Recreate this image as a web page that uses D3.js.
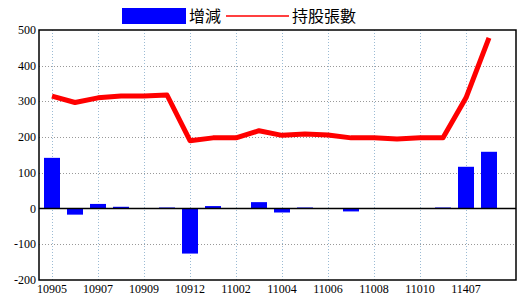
<!DOCTYPE html>
<html>
<head>
<meta charset="utf-8">
<script src="https://cdn.jsdelivr.net/npm/d3@7"></script>
<style>
  body { margin: 0; background: #fff; }
  text { font-family: "Liberation Serif", serif; }
</style>
</head>
<body>
<div id="chart"></div>
<script>
// 月份 (民國年月)
var months = ["10905","10906","10907","10908","10909","10910","10912","11001","11002","11003",
              "11004","11005","11006","11007","11008","11009","11010","11011","11407","11408"];
// 增減
var change = [142,-17,13,5,0,3,-126,7,0,18,-11,3,0,-8,0,0,0,3,117,159];
// 持股張數
var holding = [315,297,310,315,315,318,190,198,198,218,205,209,206,198,198,195,198,198,310,478];
var yTicks = [-200,-100,0,100,200,300,400,500];

var W = 520, H = 300;
var pLeft = 39, pRight = 516, pTop = 30, pBottom = 280;

var svg = d3.select("#chart").append("svg")
    .attr("width", W).attr("height", H);

var x = d3.scaleBand()
    .domain(months)
    .range([40.5, 500.5]);

var y = d3.scaleLinear()
    .domain([-200, 500])
    .range([pBottom, pTop]);

var labelMonths = months.filter((d, i) => i % 2 == 0);

// 水平格線
svg.append("g")
    .selectAll("line")
    .data(yTicks.filter(d => d != 0 && d != 500 && d != -200))
    .enter().append("line")
    .attr("x1", pLeft).attr("x2", pRight)
    .attr("y1", d => Math.round(y(d)) + 0.5).attr("y2", d => Math.round(y(d)) + 0.5)
    .attr("stroke", "#999")
    .attr("stroke-dasharray", "1,2");

// 垂直格線 (每兩個月)
svg.append("g")
    .selectAll("line")
    .data(labelMonths)
    .enter().append("line")
    .attr("x1", d => Math.round(x(d) + x.bandwidth() / 2) + 0.5)
    .attr("x2", d => Math.round(x(d) + x.bandwidth() / 2) + 0.5)
    .attr("y1", pTop).attr("y2", pBottom)
    .attr("stroke", "#9bbbd4")
    .attr("stroke-dasharray", "1,2");

// 長條
svg.append("g")
    .selectAll("rect")
    .data(change)
    .enter().append("rect")
    .attr("x", (d, i) => x(months[i]) + 3.5)
    .attr("width", 16)
    .attr("y", d => y(Math.max(0, d)))
    .attr("height", d => Math.abs(y(d) - y(0)))
    .attr("fill", "#0000ff");

// 零線
svg.append("line")
    .attr("x1", pLeft).attr("x2", pRight)
    .attr("y1", y(0)).attr("y2", y(0))
    .attr("stroke", "#000").attr("stroke-width", 1.5);

// 折線
var line = d3.line()
    .x((d, i) => x(months[i]) + x.bandwidth() / 2)
    .y(d => y(d));
svg.append("path")
    .datum(holding)
    .attr("d", line)
    .attr("fill", "none")
    .attr("stroke", "#ff0000")
    .attr("stroke-width", 5)
    .attr("stroke-linejoin", "round");

// 外框
svg.append("rect")
    .attr("x", pLeft).attr("y", pTop)
    .attr("width", pRight - pLeft).attr("height", pBottom - pTop)
    .attr("fill", "none")
    .attr("stroke", "#000").attr("stroke-width", 1.5);

// Y 軸標籤
svg.append("g")
    .selectAll("text")
    .data(yTicks)
    .enter().append("text")
    .attr("x", 36)
    .attr("y", d => y(d) + 4)
    .attr("text-anchor", "end")
    .attr("font-size", 12)
    .text(d => d);

// X 軸標籤
svg.append("g")
    .selectAll("text")
    .data(labelMonths)
    .enter().append("text")
    .attr("x", d => x(d) + x.bandwidth() / 2)
    .attr("y", 293)
    .attr("text-anchor", "middle")
    .attr("font-size", 12)
    .text(d => d);

// 圖例
var lg = svg.append("g");
lg.append("rect")
    .attr("x", 122).attr("y", 8)
    .attr("width", 64).attr("height", 16)
    .attr("fill", "#0000ff");
lg.append("text")
    .attr("x", 189).attr("y", 22)
    .attr("font-size", 16)
    .style("font-family", "'Noto Sans CJK TC', sans-serif")
    .text("增減");
lg.append("line")
    .attr("x1", 226).attr("x2", 289)
    .attr("y1", 16).attr("y2", 16)
    .attr("stroke", "#ff0000").attr("stroke-width", 1.5);
lg.append("text")
    .attr("x", 292).attr("y", 22)
    .attr("font-size", 16)
    .style("font-family", "'Noto Sans CJK TC', sans-serif")
    .text("持股張數");
</script>
</body>
</html>
